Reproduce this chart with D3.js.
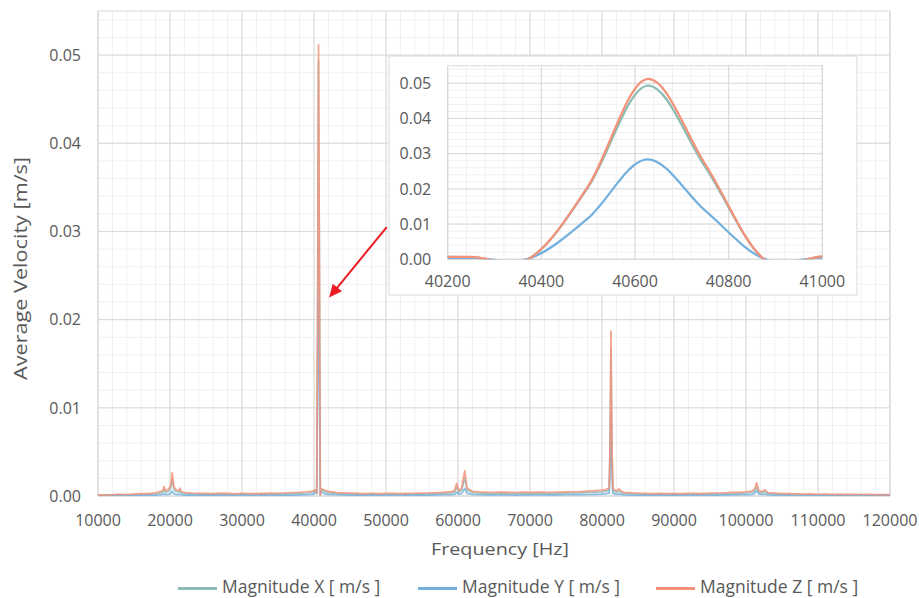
<!DOCTYPE html>
<html>
<head>
<meta charset="utf-8">
<script src="https://cdn.jsdelivr.net/npm/d3@7"></script>
<style>
  body { margin: 0; background: #fff; }
  text { font-family: "Open Sans", sans-serif; fill: #595959; }
</style>
</head>
<body>
<div id="chart"></div>
<script>
// spectrum samples [Hz] - background every 1 kHz, denser around the harmonics
const freq = [
  10000, 11000, 12000, 13000, 14000, 15000, 16000, 17000, 18000,
  18500, 19000, 19170, 19400, 19800, 20100, 20312, 20550, 20900, 21200, 21390, 21600,
  22000, 23000, 24000, 25000, 26000, 27000, 28000, 29000, 30000, 31000, 32000, 33000, 34000, 35000, 36000, 37000, 38000, 39000,
  39500, 40000, 40125, 40250, 40375, 40500, 40625, 40750, 40875, 41000, 41125,
  41500, 42000, 43000, 44000, 45000, 46000, 47000, 48000, 49000, 50000, 51000, 52000, 53000, 54000, 55000, 56000, 57000, 58000, 59000,
  59500, 59820, 60100, 60500, 60937, 61250, 61600, 62000,
  63000, 64000, 65000, 66000, 67000, 68000, 69000, 70000, 71000, 72000, 73000, 74000, 75000, 76000, 77000, 78000, 79000, 80000,
  80500, 81000, 81125, 81250, 81375, 81500, 82000, 82360, 82700, 83000,
  84000, 85000, 86000, 87000, 88000, 89000, 90000, 91000, 92000, 93000, 94000, 95000, 96000, 97000, 98000, 99000, 100000,
  100800, 101200, 101480, 101800, 102200, 102640, 103000,
  104000, 105000, 106000, 107000, 108000, 109000, 110000, 111000, 112000, 113000, 114000, 115000, 116000, 117000, 118000, 119000, 120000
];

// average velocity [m/s]
const magX = [
  0.00008, 0.00009, 0.00010, 0.00012, 0.00012, 0.00015, 0.00018, 0.00020, 0.00025,
  0.00032, 0.00042, 0.00075, 0.00040, 0.00055, 0.00088, 0.00195, 0.00072, 0.00048, 0.00042, 0.00060, 0.00034,
  0.00028, 0.00024, 0.00021, 0.00022, 0.00018, 0.00022, 0.00020, 0.00018, 0.00022, 0.00020, 0.00018, 0.00021, 0.00023, 0.00021, 0.00024, 0.00027, 0.00030, 0.00034,
  0.00038, 0.00045, 0.00062, 0.00064, 0.00028, 0.02050, 0.04930, 0.02620, 0.00010, 0.00072, 0.00070,
  0.00048, 0.00038, 0.00030, 0.00026, 0.00023, 0.00021, 0.00020, 0.00022, 0.00018, 0.00020, 0.00021, 0.00018, 0.00021, 0.00022, 0.00022, 0.00024, 0.00027, 0.00030, 0.00036,
  0.00042, 0.00100, 0.00045, 0.00066, 0.00205, 0.00066, 0.00054, 0.00038,
  0.00033, 0.00030, 0.00028, 0.00031, 0.00029, 0.00027, 0.00030, 0.00028, 0.00031, 0.00030, 0.00028, 0.00032, 0.00033, 0.00034, 0.00036, 0.00040, 0.00043, 0.00047,
  0.00052, 0.00068, 0.00600, 0.01660, 0.00550, 0.00062, 0.00043, 0.00058, 0.00036, 0.00030,
  0.00026, 0.00023, 0.00021, 0.00020, 0.00021, 0.00018, 0.00020, 0.00019, 0.00021, 0.00021, 0.00020, 0.00023, 0.00024, 0.00026, 0.00028, 0.00030, 0.00034,
  0.00040, 0.00058, 0.00100, 0.00042, 0.00036, 0.00050, 0.00028,
  0.00023, 0.00020, 0.00018, 0.00017, 0.00016, 0.00016, 0.00014, 0.00015, 0.00013, 0.00014, 0.00013, 0.00013, 0.00012, 0.00013, 0.00011, 0.00012, 0.00011
];
const magY = [
  0.00004, 0.00004, 0.00005, 0.00006, 0.00006, 0.00007, 0.00008, 0.00009, 0.00011,
  0.00014, 0.00018, 0.00024, 0.00016, 0.00020, 0.00030, 0.00055, 0.00026, 0.00018, 0.00016, 0.00022, 0.00013,
  0.00011, 0.00010, 0.00009, 0.00009, 0.00008, 0.00010, 0.00009, 0.00008, 0.00009, 0.00009, 0.00008, 0.00009, 0.00010, 0.00009, 0.00010, 0.00011, 0.00013, 0.00015,
  0.00017, 0.00022, 0.00036, 0.00040, 0.00028, 0.01170, 0.02840, 0.01380, 0.00020, 0.00050, 0.00042,
  0.00024, 0.00018, 0.00014, 0.00012, 0.00011, 0.00010, 0.00009, 0.00010, 0.00008, 0.00009, 0.00010, 0.00008, 0.00009, 0.00010, 0.00010, 0.00011, 0.00012, 0.00014, 0.00016,
  0.00019, 0.00040, 0.00021, 0.00030, 0.00085, 0.00030, 0.00024, 0.00017,
  0.00014, 0.00013, 0.00012, 0.00013, 0.00012, 0.00011, 0.00013, 0.00012, 0.00013, 0.00012, 0.00012, 0.00013, 0.00014, 0.00015, 0.00016, 0.00017, 0.00019, 0.00021,
  0.00024, 0.00032, 0.00350, 0.00980, 0.00320, 0.00030, 0.00019, 0.00024, 0.00016, 0.00013,
  0.00011, 0.00010, 0.00009, 0.00009, 0.00009, 0.00008, 0.00009, 0.00008, 0.00009, 0.00009, 0.00009, 0.00010, 0.00011, 0.00012, 0.00013, 0.00014, 0.00016,
  0.00019, 0.00028, 0.00058, 0.00021, 0.00017, 0.00022, 0.00013,
  0.00011, 0.00010, 0.00009, 0.00008, 0.00008, 0.00008, 0.00007, 0.00007, 0.00007, 0.00007, 0.00006, 0.00006, 0.00006, 0.00006, 0.00005, 0.00006, 0.00005
];
const magZ = [
  0.00010, 0.00012, 0.00014, 0.00018, 0.00017, 0.00022, 0.00026, 0.00028, 0.00036,
  0.00048, 0.00062, 0.00108, 0.00058, 0.00080, 0.00120, 0.00262, 0.00100, 0.00068, 0.00060, 0.00088, 0.00048,
  0.00040, 0.00034, 0.00030, 0.00031, 0.00026, 0.00032, 0.00029, 0.00025, 0.00031, 0.00028, 0.00026, 0.00030, 0.00033, 0.00030, 0.00034, 0.00038, 0.00042, 0.00048,
  0.00052, 0.00060, 0.00068, 0.00066, 0.00030, 0.02080, 0.05120, 0.02700, 0.00010, 0.00080, 0.00078,
  0.00066, 0.00052, 0.00042, 0.00036, 0.00033, 0.00030, 0.00028, 0.00031, 0.00026, 0.00029, 0.00030, 0.00026, 0.00030, 0.00031, 0.00032, 0.00034, 0.00038, 0.00042, 0.00050,
  0.00058, 0.00144, 0.00062, 0.00090, 0.00288, 0.00090, 0.00074, 0.00052,
  0.00046, 0.00042, 0.00040, 0.00044, 0.00041, 0.00038, 0.00043, 0.00040, 0.00044, 0.00042, 0.00040, 0.00045, 0.00046, 0.00048, 0.00050, 0.00056, 0.00060, 0.00066,
  0.00072, 0.00092, 0.00660, 0.01870, 0.00620, 0.00086, 0.00060, 0.00080, 0.00050, 0.00042,
  0.00036, 0.00032, 0.00030, 0.00028, 0.00030, 0.00026, 0.00028, 0.00027, 0.00029, 0.00030, 0.00028, 0.00032, 0.00034, 0.00036, 0.00040, 0.00042, 0.00048,
  0.00056, 0.00080, 0.00150, 0.00060, 0.00050, 0.00070, 0.00040,
  0.00032, 0.00028, 0.00026, 0.00024, 0.00022, 0.00023, 0.00020, 0.00021, 0.00019, 0.00020, 0.00018, 0.00019, 0.00017, 0.00018, 0.00016, 0.00017, 0.00016
];

const seriesNames = ["Magnitude X [ m/s ]", "Magnitude Y [ m/s ]", "Magnitude Z [ m/s ]"];
const seriesColors = ["#8cbcb4", "#74b0de", "#f4937a"];

// tick labels
const mainXTicks = [10000, 20000, 30000, 40000, 50000, 60000, 70000, 80000, 90000, 100000, 110000, 120000];
const mainYTicks = [0, 0.01, 0.02, 0.03, 0.04, 0.05];
const zoomXTicks = [40200, 40400, 40600, 40800, 41000];
const zoomYTicks = [0, 0.01, 0.02, 0.03, 0.04, 0.05];

const width = 919, height = 598;

const svg = d3.select("#chart")
  .append("svg")
    .attr("width", width)
    .attr("height", height);

const series = [magX, magY, magZ].map((vals, i) => ({
  name: seriesNames[i],
  color: seriesColors[i],
  values: freq.map((f, j) => ({ f: f, v: vals[j] }))
}));

// grid + border + tick labels for one plot area
function drawFrame(g, x, y, xMinorStep, yMinorStep, xTicks, yTicks, xLabelY, yLabelPad) {
  const [x0, x1] = x.range();
  const [y0, y1] = y.range();
  const xd = x.domain(), yd = y.domain();

  const xMinor = d3.range(xd[0], xd[1] + 1, xMinorStep);
  const yMinor = d3.range(0, yd[1], yMinorStep);

  g.append("g").selectAll("line").data(xMinor).join("line")
    .attr("x1", d => x(d)).attr("x2", d => x(d)).attr("y1", y1).attr("y2", y0)
    .attr("stroke", "#f0f0f0");
  g.append("g").selectAll("line").data(yMinor).join("line")
    .attr("x1", x0).attr("x2", x1).attr("y1", d => y(d)).attr("y2", d => y(d))
    .attr("stroke", "#f0f0f0");
  g.append("g").selectAll("line").data(xTicks).join("line")
    .attr("x1", d => x(d)).attr("x2", d => x(d)).attr("y1", y1).attr("y2", y0)
    .attr("stroke", "#d9d9d9");
  g.append("g").selectAll("line").data(yTicks).join("line")
    .attr("x1", x0).attr("x2", x1).attr("y1", d => y(d)).attr("y2", d => y(d))
    .attr("stroke", "#d9d9d9");

  g.append("rect")
    .attr("x", x0).attr("y", y1)
    .attr("width", x1 - x0).attr("height", y0 - y1)
    .attr("fill", "none").attr("stroke", "#d9d9d9");

  g.append("g").selectAll("text").data(xTicks).join("text")
    .attr("x", d => x(d)).attr("y", y0 + xLabelY)
    .attr("text-anchor", "middle")
    .style("font-size", "16px")
    .text(d => d);
  g.append("g").selectAll("text").data(yTicks).join("text")
    .attr("x", x0 - yLabelPad).attr("y", d => y(d))
    .attr("dy", "0.36em")
    .attr("text-anchor", "end")
    .style("font-size", "16px")
    .text(d => d3.format(".2f")(d));
}

// ---------- main chart ----------
const x = d3.scaleLinear().domain([10000, 120000]).range([98, 890]);
const y = d3.scaleLinear().domain([0, 0.055]).range([496, 11]);

const main = svg.append("g");
drawFrame(main, x, y, 2000, 0.002, mainXTicks, mainYTicks, 30, 17);

svg.append("clipPath").attr("id", "clipMain")
  .append("rect").attr("x", 98).attr("y", 11).attr("width", 792).attr("height", 485);

const line = d3.line()
  .x(d => x(d.f))
  .y(d => y(d.v));

main.append("g")
  .attr("clip-path", "url(#clipMain)")
  .selectAll("path")
  .data(series)
  .join("path")
    .attr("d", d => line(d.values))
    .attr("fill", "none")
    .attr("stroke", d => d.color)
    .attr("stroke-width", 1.7)
    .attr("stroke-opacity", 0.85)
    .attr("stroke-linejoin", "round");

// axis titles
svg.append("text")
  .attr("x", 431).attr("y", 555)
  .attr("textLength", 138).attr("lengthAdjust", "spacingAndGlyphs")
  .style("font-size", "17px")
  .text("Frequency [Hz]");

svg.append("text")
  .attr("transform", "translate(26.5,380) rotate(-90)")
  .attr("textLength", 223).attr("lengthAdjust", "spacingAndGlyphs")
  .style("font-size", "18px")
  .text("Average Velocity [m/s]");

// red arrow pointing at the main peak
const arrowFrom = [50100, 0.0305], arrowTo = [42100, 0.0225];
const ax0 = x(arrowFrom[0]), ay0 = y(arrowFrom[1]);
const ax1 = x(arrowTo[0]), ay1 = y(arrowTo[1]);
const ang = Math.atan2(ay1 - ay0, ax1 - ax0);
const headLen = 13, headW = 6;
svg.append("line")
  .attr("x1", ax0).attr("y1", ay0)
  .attr("x2", ax1 - Math.cos(ang) * (headLen - 2))
  .attr("y2", ay1 - Math.sin(ang) * (headLen - 2))
  .attr("stroke", "#ec1c24").attr("stroke-width", 2);
const bx = ax1 - Math.cos(ang) * headLen, by = ay1 - Math.sin(ang) * headLen;
svg.append("polygon")
  .attr("points", [
    [ax1, ay1],
    [bx + Math.sin(ang) * headW, by - Math.cos(ang) * headW],
    [bx - Math.sin(ang) * headW, by + Math.cos(ang) * headW]
  ].map(p => p.join(",")).join(" "))
  .attr("fill", "#ec1c24");

// ---------- inset (zoom on the 40.6 kHz peak) ----------
const inset = svg.append("g");
inset.append("rect")
  .attr("x", 389).attr("y", 56).attr("width", 468).attr("height", 239)
  .attr("fill", "#fff").attr("stroke", "#d9d9d9");

const xi = d3.scaleLinear().domain([40200, 41000]).range([447.7, 822.3]);
const yi = d3.scaleLinear().domain([0, 0.055]).range([259.3, 65.7]);

drawFrame(inset, xi, yi, 40, 0.002, zoomXTicks, zoomYTicks, 28, 16.5);

svg.append("clipPath").attr("id", "clipInset")
  .append("rect").attr("x", 447.7).attr("y", 65.7).attr("width", 374.6).attr("height", 193.6);

const lineZoom = d3.line()
  .curve(d3.curveCardinal.tension(0))
  .x(d => xi(d.f))
  .y(d => yi(d.v));

inset.append("g")
  .attr("clip-path", "url(#clipInset)")
  .selectAll("path")
  .data(series)
  .join("path")
    .attr("d", d => lineZoom(d.values.filter(p => p.f >= 39900 && p.f <= 41200)))
    .attr("fill", "none")
    .attr("stroke", d => d.color)
    .attr("stroke-width", 2.25);

// ---------- legend ----------
const legendX = [178, 418, 656];
const legend = svg.append("g")
  .selectAll("g")
  .data(series)
  .join("g")
    .attr("transform", (d, i) => `translate(${legendX[i]},588.5)`);
legend.append("line")
  .attr("x1", 0).attr("x2", 39)
  .attr("stroke", d => d.color).attr("stroke-width", 3);
legend.append("text")
  .attr("x", 44).attr("y", 4.5)
  .style("font-size", "17.5px")
  .text(d => d.name);
</script>
</body>
</html>
